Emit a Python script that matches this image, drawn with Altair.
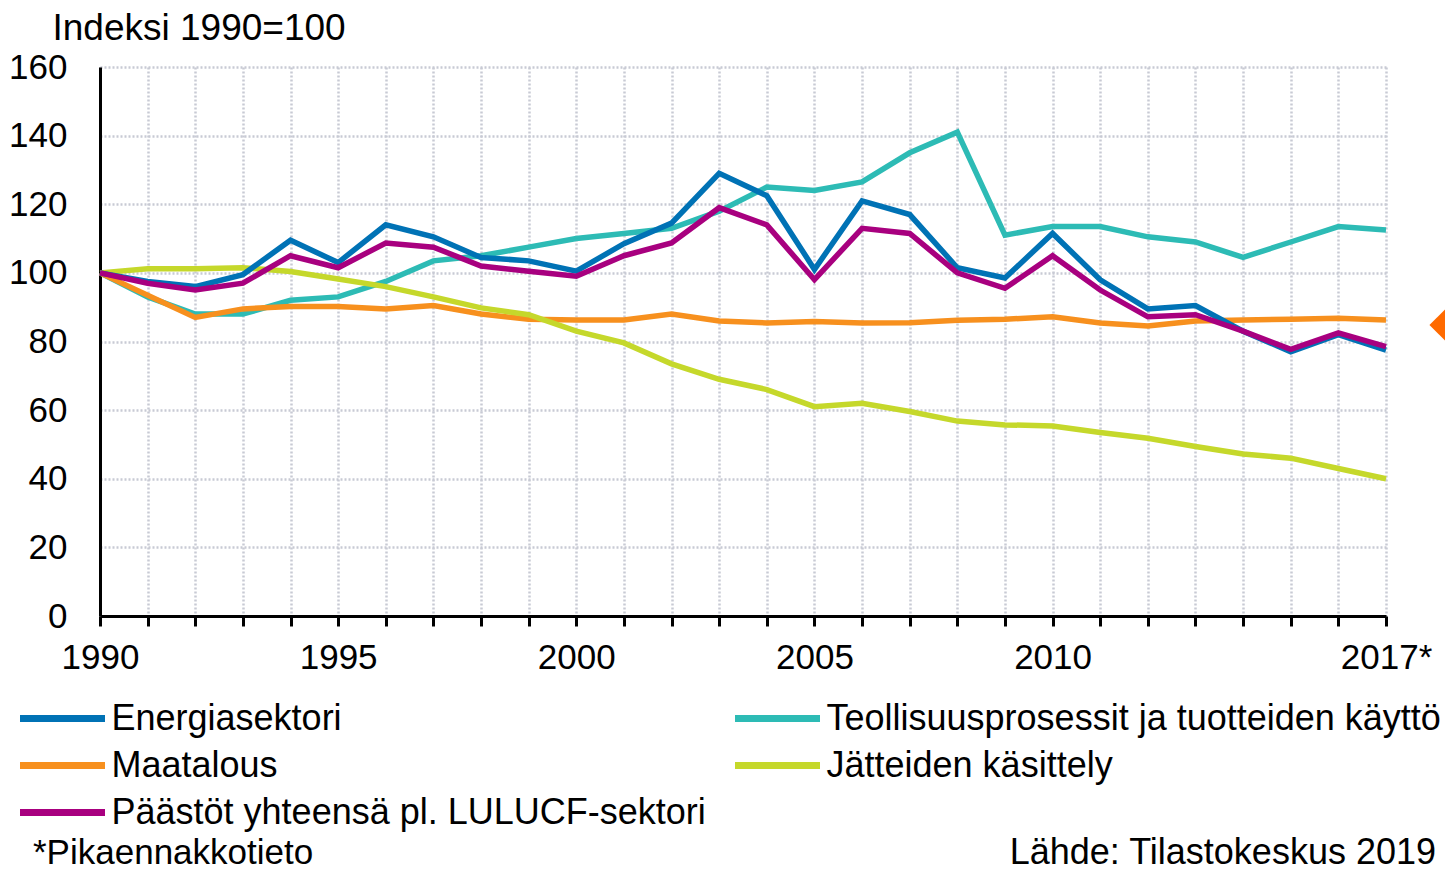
import altair as alt
import pandas as pd

# ---- data ----
years = list(range(1990, 2018))

energiasektori = [100, 97.5, 96, 99.5, 109.5, 103, 114, 110.5, 104.5, 103.5,
                  100.5, 108.5, 114.5, 129, 122.5, 101, 121, 117, 101.5, 98.5,
                  111.5, 98, 89.5, 90.5, 83, 77, 82, 77.5]
teollisuus = [100, 93, 88, 88, 92, 93, 97.5, 103.5, 105, 107.5,
              110, 111.5, 113, 118, 125, 124, 126.5, 135, 141, 111,
              113.5, 113.5, 110.5, 109, 104.5, 109, 113.5, 112.5]
maatalous = [100, 93.5, 87, 89.5, 90.2, 90.2, 89.5, 90.5, 88, 86.5,
             86.3, 86.3, 88, 86, 85.4, 85.8, 85.4, 85.5, 86.2, 86.5,
             87.2, 85.4, 84.5, 86, 86.3, 86.5, 86.8, 86.3]
jatteet = [100, 101.2, 101.2, 101.5, 100.4, 98.2, 96, 93, 89.8, 87.8,
           83, 79.6, 73.5, 69, 66, 61, 62, 59.6, 56.8, 55.7,
           55.4, 53.5, 51.8, 49.4, 47.2, 46, 43, 40]
paastot = [100, 97, 95, 97, 105, 101.5, 108.7, 107.5, 102, 100.5,
           99, 105, 108.7, 119, 114, 98, 113, 111.5, 100, 95.5,
           105, 95, 87.2, 87.8, 83, 77.7, 82.5, 78.5]

series_names = ["Energiasektori",
                "Teollisuusprosessit ja tuotteiden käyttö",
                "Maatalous",
                "Jätteiden käsittely",
                "Päästöt yhteensä pl. LULUCF-sektori"]
series_values = [energiasektori, teollisuus, maatalous, jatteet, paastot]
series_colors = ["#0072b5", "#2dbbb5", "#f7901e", "#c5d82b", "#a8007f"]
draw_order = [1, 2, 3, 0, 4]

y_ticks = [0, 20, 40, 60, 80, 100, 120, 140, 160]
x_labelled = {1990: "1990", 1995: "1995", 2000: "2000", 2005: "2005",
              2010: "2010", 2017: "2017*"}
y_title = "Indeksi 1990=100"
footnote = "*Pikaennakkotieto"
source = "Lähde: Tilastokeskus 2019"

marker_year = [2018.5]
marker_value = [84.8]

FONT = "Liberation Sans"

rows = []
for name, vals in zip(series_names, series_values):
    for yr, v in zip(years, vals):
        rows.append({"vuosi": yr, "indeksi": v, "sarja": name})
df = pd.DataFrame(rows)

label_expr = " : ".join(
    f"datum.value == {k} ? '{v}'" for k, v in x_labelled.items()
) + " : ''"

x_scale = alt.Scale(domain=[1990, 2017], nice=False, zero=False)
y_scale = alt.Scale(domain=[0, 160], nice=False)

x_axis = alt.Axis(
    values=years, title=None, labelExpr=label_expr,
    labelFlush=False, labelOverlap=False,
    labelFont=FONT, labelFontSize=35, labelColor="black", labelPadding=14,
    grid=True, gridColor="#c8cad4", gridDash=[2, 2], gridWidth=2.5,
    domainColor="black", domainWidth=3,
    tickColor="black", tickWidth=3, tickSize=10,
)
y_axis = alt.Axis(
    values=y_ticks, title=y_title,
    titleAngle=0, titleAlign="left", titleBaseline="alphabetic",
    titleX=-48, titleY=-28, titleFont=FONT, titleFontSize=37,
    titleFontWeight="normal", titleColor="black",
    ticks=False, labelPadding=33,
    labelFont=FONT, labelFontSize=35, labelColor="black",
    grid=True, gridColor="#c8cad4", gridDash=[2, 2], gridWidth=2.5,
    domainColor="black", domainWidth=3,
)

x_enc = alt.X("vuosi:Q", scale=x_scale, axis=x_axis)
y_enc = alt.Y("indeksi:Q", scale=y_scale, axis=y_axis)

color = alt.Color(
    "sarja:N",
    scale=alt.Scale(domain=series_names, range=series_colors),
    legend=alt.Legend(
        title=None, orient="none", legendX=-83.5, legendY=628,
        direction="horizontal", columns=2, columnPadding=25, rowPadding=0,
        symbolType="stroke", symbolSize=7225, symbolStrokeWidth=7,
        clipHeight=47, labelOffset=3, padding=0,
        labelFont=FONT, labelFontSize=36, labelColor="black", labelLimit=1000,
    ),
)

layers = []
for idx in draw_order:
    layers.append(
        alt.Chart(df).transform_filter(alt.datum.sarja == series_names[idx])
        .mark_line(strokeWidth=5.5)
        .encode(x=x_enc, y=y_enc, color=color)
    )

marker_df = pd.DataFrame({"vuosi": marker_year, "indeksi": marker_value})
marker = alt.Chart(marker_df).mark_point(
    shape="diamond", filled=True, size=3136, color="#ff6a00", opacity=1
).encode(x=x_enc, y=y_enc)

foot = alt.Chart(pd.DataFrame({"t": [footnote]})).mark_text(
    align="left", baseline="alphabetic", font=FONT, fontSize=35, color="black"
).encode(text="t:N", x=alt.value(-67), y=alt.value(797))

src = alt.Chart(pd.DataFrame({"t": [source]})).mark_text(
    align="right", baseline="alphabetic", font=FONT, fontSize=36, color="black"
).encode(text="t:N", x=alt.value(1336), y=alt.value(797))

chart = alt.layer(*layers, marker, foot, src).properties(
    width=1286, height=549,
    autosize=alt.AutoSizeParams(type="none"),
    padding={"left": 92, "top": 59, "right": 59, "bottom": 256},
).configure(font=FONT).configure_view(stroke=None)

chart.save("out.html", embed_options={"renderer": "svg", "actions": False})
